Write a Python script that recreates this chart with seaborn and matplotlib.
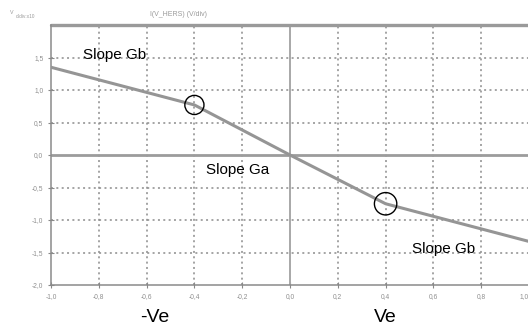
import matplotlib
matplotlib.use("Agg")
import matplotlib.pyplot as plt
import matplotlib.transforms as mtransforms
from matplotlib.ticker import MultipleLocator
import seaborn as sns
import pandas as pd

# Piecewise-linear transfer curve (input in V, output in V)
x_pts = [-1.0, -0.4, 0.0, 0.4, 1.0]
y_pts = [1.35, 0.77, 0.0, -0.75, -1.33]
# Breakpoints where the slope changes (Gb -> Ga -> Gb)
break_x = [-0.4, 0.4]
break_y = [0.77, -0.75]

x_ticks = [-1.0, -0.8, -0.6, -0.4, -0.2, 0.0, 0.2, 0.4, 0.6, 0.8, 1.0]
x_tick_labels = ["-1,0", "-0,8", "-0,6", "-0,4", "-0,2", "0,0", "0,2", "0,4", "0,6", "0,8", "1,0"]
y_ticks = [-2.0, -1.5, -1.0, -0.5, 0.0, 0.5, 1.0, 1.5]
y_tick_labels = ["-2,0", "-1,5", "-1,0", "-0,5", "0,0", "0,5", "1,0", "1,5"]

sns.set_theme(style="white")
plt.rcParams["font.family"] = ["Liberation Sans", "DejaVu Sans"]

fig = plt.figure(figsize=(5.28, 3.27), dpi=100)
ax = fig.add_axes([51 / 528, 1 - 285 / 327, 478 / 528, 260 / 327])

df = pd.DataFrame({"vin": x_pts, "vout": y_pts})
sns.lineplot(data=df, x="vin", y="vout", ax=ax, color="#959595", lw=2.2,
             sort=False, zorder=4)

# Breakpoint markers
ax.scatter(break_x, break_y, s=[190, 260], facecolors="none",
           edgecolors="black", linewidths=1.0, zorder=5)

ax.set_xlim(-1.0, 1.0)
ax.set_ylim(-2.0, 2.0)

# Dotted scope-style graticule
for xv in x_ticks[1:-1]:
    if xv != 0.0:
        ax.axvline(xv, color="#8c8c8c", lw=1.1, ls=(0, (1.3, 2.2)), zorder=1)
for yv in y_ticks[1:]:
    if yv != 0.0:
        ax.axhline(yv, color="#8c8c8c", lw=1.1, ls=(0, (1.3, 2.2)), zorder=1)
ax.axhline(0.0, color="#9c9c9c", lw=2.0, zorder=2)
ax.axvline(0.0, color="#a8a8a8", lw=1.4, zorder=2)
ax.axhline(2.0, color="#9a9a9a", lw=2.4, zorder=2, clip_on=False)

ax.set_xticks(x_ticks)
ax.set_xticklabels(x_tick_labels)
ax.set_yticks(y_ticks)
ax.set_yticklabels(y_tick_labels)
ax.xaxis.set_minor_locator(MultipleLocator(0.04))
ax.yaxis.set_minor_locator(MultipleLocator(0.1))
ax.tick_params(axis="both", which="major", direction="inout", length=5,
               width=0.8, color="#888888", labelsize=4.8, labelcolor="#8f8f8f",
               pad=3)
ax.tick_params(axis="both", which="minor", direction="inout", length=3,
               width=0.7, color="#888888")
ax.tick_params(axis="y", left=True)
ax.tick_params(axis="x", bottom=True)
ax.get_xticklabels()[-1].set_horizontalalignment("right")
for side in ["top", "right"]:
    ax.spines[side].set_visible(False)
for side in ["left", "bottom"]:
    ax.spines[side].set_color("#8a8a8a")
    ax.spines[side].set_linewidth(1.1)
ax.set_xlabel("")
ax.set_ylabel("")

# Header and unit text
fig.text(150 / 528, 1 - 14 / 327, "I(V_HERS) (V/div)", fontsize=5,
         color="#999999", va="center", ha="left")
fig.text(10 / 528, 1 - 12 / 327, "V", fontsize=3.8, color="#999999",
         va="center", ha="left")
fig.text(16 / 528, 1 - 17 / 327, "d/div:x10", fontsize=3.4, color="#999999",
         va="center", ha="left")

# Slope annotations
ax.text(-0.736, 1.54, "Slope Gb", fontsize=11, ha="center", va="center",
        color="black", zorder=6)
ax.text(-0.22, -0.23, "Slope Ga", fontsize=11, ha="center", va="center",
        color="black", zorder=6)
ax.text(0.644, -1.45, "Slope Gb", fontsize=11, ha="center", va="center",
        color="black", zorder=6)

trans = mtransforms.blended_transform_factory(ax.transData, fig.transFigure)
ax.text(-0.565, 1 - 317 / 327, "-Ve", fontsize=14, ha="center", va="center",
        transform=trans, color="black")
ax.text(0.4, 1 - 317 / 327, "Ve", fontsize=14, ha="center", va="center",
        transform=trans, color="black")

fig.savefig("out.png", dpi=100)
